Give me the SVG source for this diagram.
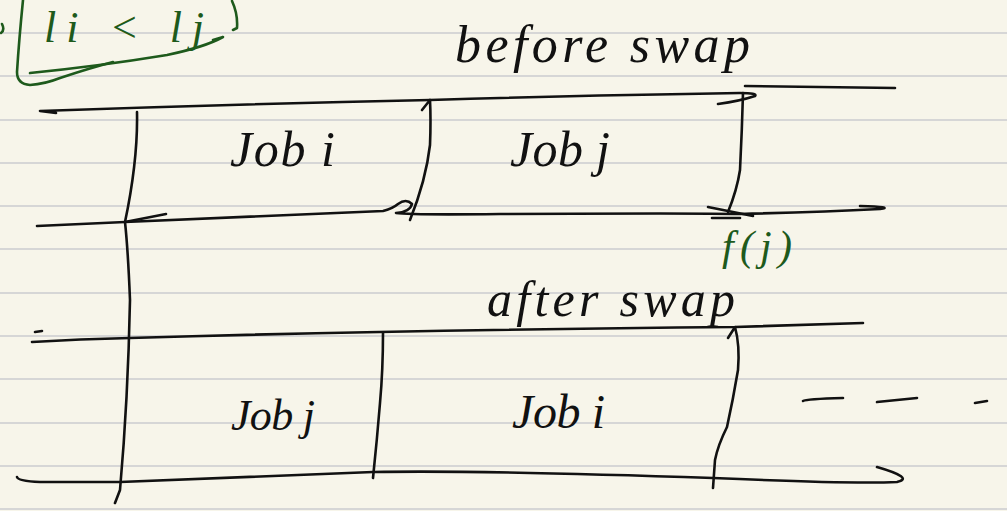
<svg xmlns="http://www.w3.org/2000/svg" width="1007" height="511" viewBox="0 0 1007 511">
  <style>
    .rule { stroke: #d6d6d6; stroke-width: 2; }
    .ink { fill: none; stroke: #111; stroke-width: 2.6; stroke-linecap: round; stroke-linejoin: round; }
    .green { fill: none; stroke: #1e5a1c; stroke-width: 2.6; stroke-linecap: round; stroke-linejoin: round; }
    .hand { font-family: "Liberation Serif", "DejaVu Serif", serif; font-style: italic; fill: #111; }
    .hand-green { font-family: "Liberation Serif", "DejaVu Serif", serif; font-style: italic; fill: #1e5a1c; }
  </style>

  <!-- paper -->
  <rect x="0" y="0" width="1007" height="511" fill="#f7f5ea"/>
  <g id="ruling">
    <line class="rule" x1="0" y1="33" x2="1007" y2="33"/>
    <line class="rule" x1="0" y1="76" x2="1007" y2="76"/>
    <line class="rule" x1="0" y1="120" x2="1007" y2="120"/>
    <line class="rule" x1="0" y1="163" x2="1007" y2="163"/>
    <line class="rule" x1="0" y1="206" x2="1007" y2="206"/>
    <line class="rule" x1="0" y1="249" x2="1007" y2="249"/>
    <line class="rule" x1="0" y1="293" x2="1007" y2="293"/>
    <line class="rule" x1="0" y1="336" x2="1007" y2="336"/>
    <line class="rule" x1="0" y1="379" x2="1007" y2="379"/>
    <line class="rule" x1="0" y1="423" x2="1007" y2="423"/>
    <line class="rule" x1="0" y1="466" x2="1007" y2="466"/>
    <line class="rule" x1="0" y1="509" x2="1007" y2="509"/>
  </g>

  <!-- condition note, top left -->
  <g id="condition">
    <path class="green" d="M2,24 Q5,30 1,33"/>
    <path class="green" d="M23,0 Q19,40 17,72 Q17,84 30,85 Q45,84 60,78 Q90,68 113,62"/>
    <path class="green" d="M30,73 Q100,66 167,55 Q205,47 223,37 L213,40"/>
    <path class="green" d="M232,1 Q238,14 237,28 L233,30"/>
    <text class="hand-green" x="44" y="42" font-size="44" textLength="160" lengthAdjust="spacing">li &lt; lj</text>
  </g>

  <!-- schedule before the swap -->
  <g id="before-swap">
    <text class="hand" x="455" y="62" font-size="52" textLength="295" lengthAdjust="spacing">before swap</text>
    <path class="ink" d="M745,86 L895,88"/>
    <!-- top edge -->
    <path class="ink" d="M56,113 L40,111 Q240,104 430,100 Q600,95 740,93 Q758,93 755,96 Q740,101 718,104"/>
    <!-- bottom edge -->
    <path class="ink" d="M37,226 Q80,224 125,222 Q260,216 383,211 Q392,209 398,204 Q406,198 412,204 Q410,212 396,213 Q410,215 500,214 Q700,213 740,214 Q820,212 880,209 Q895,207 860,206"/>
    <path class="ink" d="M125,222 L166,214"/>
    <path class="ink" d="M708,207 L753,216"/>
    <path class="ink" d="M712,218 L740,218"/>
    <!-- boundaries -->
    <path class="ink" d="M137,112 Q138,160 125,222 Q128,250 130,300 Q128,400 120,490 L115,503"/>
    <path class="ink" d="M422,110 L430,100 Q431,120 430,145 Q426,180 410,220"/>
    <path class="ink" d="M743,93 Q742,130 740,170 Q737,190 728,212"/>
  </g>
  <g id="job-i-before">
    <text class="hand" x="230" y="166" font-size="50" textLength="105" lengthAdjust="spacing">Job i</text>
  </g>
  <g id="job-j-before">
    <text class="hand" x="510" y="166" font-size="50" textLength="100" lengthAdjust="spacing">Job j</text>
  </g>
  <g id="finish-label">
    <text class="hand-green" x="722" y="260" font-size="42" textLength="70" lengthAdjust="spacing">f(j)</text>
  </g>

  <!-- schedule after the swap -->
  <g id="after-swap">
    <text class="hand" x="487" y="316" font-size="50" textLength="248" lengthAdjust="spacing">after swap</text>
    <path class="ink" d="M35,332 L42,331"/>
    <!-- top edge -->
    <path class="ink" d="M32,342 Q80,339 130,338 Q400,330 735,327 L863,323"/>
    <!-- bottom edge -->
    <path class="ink" d="M17,477 Q18,481 40,482 L120,482 Q250,477 373,472 Q480,470 713,478 Q850,484 897,482 Q915,478 877,467"/>
    <!-- boundaries -->
    <path class="ink" d="M383,333 Q383,370 380,403 Q377,440 373,478"/>
    <path class="ink" d="M728,338 L735,327 Q740,345 738,370 Q733,400 727,427 Q718,445 715,460 L713,488"/>
    <!-- trailing dashes -->
    <path class="ink" d="M803,401 Q806,399 843,398"/>
    <path class="ink" d="M877,402 L917,398"/>
    <path class="ink" d="M975,403 L987,401"/>
  </g>
  <g id="job-j-after">
    <text class="hand" x="231" y="430" font-size="44" textLength="84" lengthAdjust="spacing">Job j</text>
  </g>
  <g id="job-i-after">
    <text class="hand" x="512" y="428" font-size="48" textLength="93" lengthAdjust="spacing">Job i</text>
  </g>
</svg>
